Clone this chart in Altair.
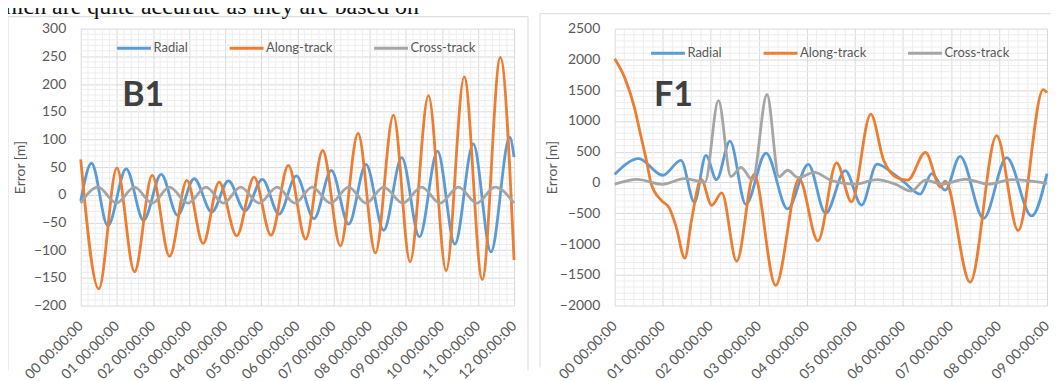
import json
import altair as alt
import pandas as pd

TOP_TEXT = "hich are quite accurate as they are based on"
SERIES = ["Radial", "Along-track", "Cross-track"]
COLORS = ["#5B9BD5", "#ED7D31", "#A5A5A5"]
Y_TITLE = "Error [m]"
LABEL = "#595959"
MAJOR = "#D9D9D9"
MINOR = "#EDEDED"
FRAME = "#D9D9D9"

# ---------------- B1 ----------------
b1_radial_day = [0, 0.3, 0.75, 1.26, 1.74, 2.23, 2.68, 3.14, 3.63, 4.09, 4.55, 5.03, 5.49, 5.97,
                 6.46, 6.94, 7.42, 7.9, 8.39, 8.89, 9.38, 9.88, 10.36, 10.87, 11.36, 11.88, 12.0]
b1_radial_val = [-11, 57, -56, 47, -46, 37, -37, 29, -31, 25, -29, 28, -35, 34,
                 -43, 44, -53, 55, -64, 67, -76, 79, -89, 92, -103, 104, 68]
b1_along_day = [0, 0.5, 1.0, 1.49, 1.98, 2.46, 2.94, 3.39, 3.83, 4.32, 4.8, 5.27, 5.75,
                6.23, 6.7, 7.19, 7.68, 8.16, 8.66, 9.12, 9.63, 10.12, 10.62, 11.12, 11.62, 12.0]
b1_along_val = [64, -170, 48, -139, 35, -111, 26, -88, 23, -74, 32, -73, 53,
                -80, 80, -92, 111, -105, 144, -121, 179, -137, 213, -153, 248, -118]
b1_cross_day = [0, 0.48, 0.99, 1.49, 1.98, 2.46, 2.97, 3.47, 3.95, 4.43, 4.94, 5.44, 5.93,
                6.41, 6.92, 7.42, 7.9, 8.39, 8.92, 9.44, 9.95, 10.46, 10.97, 11.47, 12.0]
b1_cross_val = [-15, 14, -15, 14, -15, 14, -15, 14, -15, 14, -15, 14, -15,
                14, -15, 14, -15, 14, -15, 14, -15, 14, -15, 14, -15]
b1_ticks = [0, 1, 2, 3, 4, 5, 6, 7, 8, 9, 10, 11, 12]
b1_tick_labels = ["00 00:00:00", "01 00:00:00", "02 00:00:00", "03 00:00:00", "04 00:00:00",
                  "05 00:00:00", "06 00:00:00", "07 00:00:00", "08 00:00:00", "09 00:00:00",
                  "10 00:00:00", "11 00:00:00", "12 00:00:00"]
b1_y_ticks = [-200, -150, -100, -50, 0, 50, 100, 150, 200, 250, 300]

# ---------------- F1 ----------------
f1_radial_day = [0, 0.5, 1.0, 1.38, 1.66, 1.9, 2.12, 2.4, 2.73, 3.15, 3.6, 4.03, 4.39, 4.8,
                 5.14, 5.46, 5.8, 6.02, 6.36, 6.6, 6.88, 7.19, 7.68, 8.16, 8.68, 9.0]
f1_radial_val = [134, 387, 118, 360, -320, 441, 45, 672, -355, 478, -430, 296, -501, 193,
                 -366, 300, 145, 10, -189, 145, -124, 425, -582, 404, -544, 145]
f1_along_day = [0, 0.21, 0.41, 0.55, 0.66, 0.76, 0.97, 1.14, 1.28, 1.46, 1.6, 1.8, 2.02, 2.23,
                2.54, 2.9, 3.35, 3.84, 4.23, 4.62, 4.93, 5.33, 5.6, 5.85, 6.1, 6.47, 6.78, 6.88,
                7.4, 7.95, 8.4, 8.92, 9.0]
f1_along_val = [2010, 1700, 1220, 740, 360, -20, -290, -420, -720, -1230, -610, 50, -370, -170,
                -1280, 130, -1670, 60, -950, 320, -315, 1110, 360, 90, 40, 490, -70, 20,
                -1620, 760, -780, 1510, 1460]
f1_cross_day = [0, 0.47, 0.99, 1.45, 1.88, 2.16, 2.42, 2.63, 2.87, 3.17, 3.42, 3.6, 3.82, 4.16,
                4.53, 5.01, 5.46, 5.84, 6.17, 6.47, 6.81, 7.3, 7.78, 8.26, 9.0]
f1_cross_val = [-27, 50, -30, 64, 5, 1330, 95, 245, 40, 1430, 95, 199, 80, 165,
                26, -27, 48, -27, -140, 37, -27, 53, -27, 48, -16]
f1_ticks = [0, 1, 2, 3, 4, 5, 6, 7, 8, 9]
f1_tick_labels = ["00 00:00:00", "01 00:00:00", "02 00:00:00", "03 00:00:00", "04 00:00:00",
                  "05 00:00:00", "06 00:00:00", "07 00:00:00", "08 00:00:00", "09 00:00:00"]
f1_y_ticks = [-2000, -1500, -1000, -500, 0, 500, 1000, 1500, 2000, 2500]


def panel(series, xmax, ydom, xticks, xlabels, yticks, ystep_minor, tag, tag_pos,
          W, H, frame_left, frame_top, frame_right, frame_bottom, draw_right,
          title_pad, legend_x, legend_y, bound_top, top_text=None):
    x_scale = alt.Scale(domain=[0, xmax], nice=False, zero=False)
    y_scale = alt.Scale(domain=ydom, nice=False, zero=False)
    x_axis = alt.Axis(values=xticks, labelExpr=json.dumps(xlabels) + "[datum.value]",
                      labelAngle=315, labelAlign="right", labelBaseline="middle",
                      labelPadding=18, labelFlush=False, labelOverlap=False, labelBound=False,
                      ticks=False, domain=False, grid=True, gridColor=MAJOR, gridWidth=1,
                      labelColor=LABEL, labelFontSize=14, labelFont="Lato", title=None)
    y_axis = alt.Axis(values=yticks, format="d", ticks=False, domain=False, grid=True,
                      gridColor=MAJOR, gridWidth=1, labelColor=LABEL, labelFontSize=14,
                      labelFont="Lato", labelPadding=15, labelOverlap=False, labelFlush=False,
                      title=Y_TITLE, titleColor=LABEL, titleFontSize=14, titleFont="Lato",
                      titleFontWeight="normal", titlePadding=title_pad)
    X = alt.X("day:Q", scale=x_scale, axis=x_axis)
    Y = alt.Y("value:Q", scale=y_scale, axis=y_axis)

    minor_x = [i / 5 for i in range(0, xmax * 5 + 1) if i % 5 != 0]
    minor_y = [v for v in range(ydom[0], ydom[1] + 1, ystep_minor)
               if v % (yticks[1] - yticks[0]) != 0]

    minor_v = alt.Chart(pd.DataFrame({"day": minor_x})).mark_rule(
        color=MINOR, strokeWidth=1).encode(x=X)
    minor_h = alt.Chart(pd.DataFrame({"value": minor_y})).mark_rule(
        color=MINOR, strokeWidth=1).encode(y=Y)

    one = pd.DataFrame({"k": [0]})
    frames = [
        alt.Chart(one).mark_rule(color=FRAME, strokeWidth=1).encode(
            x=alt.value(frame_left), x2=alt.value(frame_right), y=alt.value(frame_top)),
        alt.Chart(one).mark_rule(color=FRAME, strokeWidth=1).encode(
            x=alt.value(frame_left), y=alt.value(frame_top), y2=alt.value(frame_bottom)),
        # invisible spacer that fixes the top of this panel's bounds
        alt.Chart(one).mark_rule(color="white", strokeOpacity=0, strokeWidth=1).encode(
            x=alt.value(0), x2=alt.value(10), y=alt.value(bound_top)),
    ]
    if draw_right:
        frames.append(alt.Chart(one).mark_rule(color=FRAME, strokeWidth=1).encode(
            x=alt.value(frame_right), y=alt.value(frame_top), y2=alt.value(frame_bottom)))

    color = alt.Color("series:N", scale=alt.Scale(domain=SERIES, range=COLORS),
                      legend=alt.Legend(orient="none", legendX=legend_x, legendY=legend_y,
                                        direction="horizontal", columns=3, title=None,
                                        symbolType="stroke", symbolSize=1156,
                                        symbolStrokeWidth=3, labelFontSize=13,
                                        labelFont="Lato", labelColor=LABEL,
                                        columnPadding=35, labelOffset=1, padding=0,
                                        rowPadding=0))
    lines = []
    for name, (d, v) in zip(SERIES, series):
        df = pd.DataFrame({"day": d, "value": v, "series": name})
        lines.append(alt.Chart(df).mark_line(strokeWidth=2.8, interpolate="monotone").encode(
            x=X, y=Y, color=color))

    tag_df = pd.DataFrame({"day": [tag_pos[0]], "value": [tag_pos[1]], "label": [tag]})
    tag_layer = alt.Chart(tag_df).mark_text(font="Lato", fontWeight="bold", fontSize=34,
                                            color="#404040", align="left",
                                            baseline="alphabetic").encode(x=X, y=Y, text="label:N")
    extra = []
    if top_text is not None:
        extra.append(alt.Chart(pd.DataFrame({"t": [top_text]})).mark_text(
            font="Liberation Serif", fontSize=24, align="left", baseline="alphabetic",
            color="#111111").encode(x=alt.value(frame_left - 3), y=alt.value(-15), text="t:N"))

    return alt.layer(minor_v, minor_h, *frames, *lines, tag_layer, *extra).properties(
        width=W, height=H)


left = panel([(b1_radial_day, b1_radial_val), (b1_along_day, b1_along_val),
              (b1_cross_day, b1_cross_val)],
             12, [-200, 300], b1_ticks, b1_tick_labels, b1_y_ticks, 10, "B1", (1.15, 161),
             435, 278, -73, -12, 449, 343, True, 6, 35, 1, -42, TOP_TEXT)
right = panel([(f1_radial_day, f1_radial_val), (f1_along_day, f1_along_val),
               (f1_cross_day, f1_cross_val)],
              9, [-2000, 2500], f1_ticks, f1_tick_labels, f1_y_ticks, 100, "F1", (0.82, 1250),
              434, 278, -75, -15, 438, 340, False, 0, 35, 6, -45)

chart = alt.hconcat(left, right, spacing=10).resolve_scale(color="independent").properties(
    padding={"top": -25, "left": -3, "right": 0, "bottom": 0},
    background="white").configure_view(strokeWidth=0)

chart.save("out.html", embed_options={"renderer": "svg", "actions": False})
